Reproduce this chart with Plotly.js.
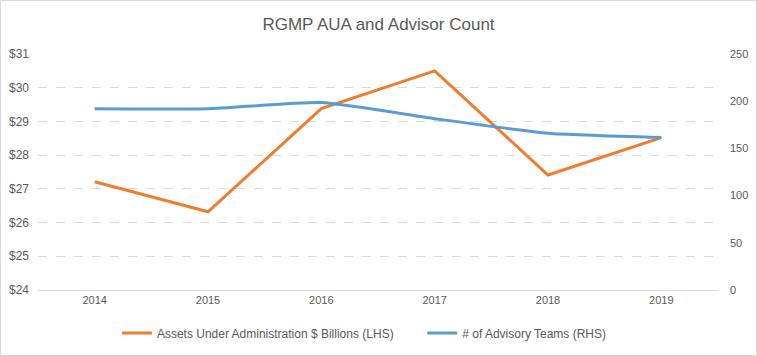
<!DOCTYPE html>
<html>
<head>
<meta charset="utf-8">
<script src="https://cdn.plot.ly/plotly-3.0.1.min.js"></script>
<style>
html,body{margin:0;padding:0;background:#fff;}
#chart{width:757px;height:356px;box-sizing:border-box;border:1px solid #d9d9d9;}
</style>
</head>
<body>
<div id="chart"></div>
<script>
const years = ["2014", "2015", "2016", "2017", "2018", "2019"];
const auaBillions = [27.21, 26.32, 29.38, 30.50, 27.41, 28.52];
const advisoryTeams = [192, 192, 198.5, 181.5, 166, 161.5];
const leftTicks = [24, 25, 26, 27, 28, 29, 30, 31];
const leftTickText = ["$24", "$25", "$26", "$27", "$28", "$29", "$30", "$31"];

const font = "Liberation Sans, Arial, sans-serif";
const textColor = "#595959";

const traces = [
  {
    x: years, y: auaBillions, type: "scatter", mode: "lines",
    name: "Assets Under Administration $ Billions (LHS)",
    line: {color: "#ED7D31", width: 3},
    yaxis: "y", legend: "legend"
  },
  {
    x: years, y: advisoryTeams, type: "scatter", mode: "lines",
    name: "# of Advisory Teams (RHS)",
    line: {color: "#5B9BD5", width: 3, shape: "spline", smoothing: 0.5},
    yaxis: "y2", legend: "legend2"
  }
];

const legendFont = {family: font, size: 12, color: textColor};
const layout = {
  width: 755, height: 354,
  margin: {l: 37, r: 38, t: 53, b: 65, autoexpand: false},
  paper_bgcolor: "#fff", plot_bgcolor: "#fff",
  font: {family: font, color: textColor, size: 11},
  title: {text: "RGMP AUA and Advisor Count", font: {family: font, size: 17, color: textColor}, x: 0.5, xanchor: "center", y: 0.935, yanchor: "middle"},
  showlegend: true,
  legend: {orientation: "h", x: 0.116, xanchor: "left", y: -0.182, yanchor: "middle", font: legendFont},
  legend2: {orientation: "h", x: 0.565, xanchor: "left", y: -0.182, yanchor: "middle", font: legendFont},
  xaxis: {
    type: "category", range: [-0.5, 5.5], showgrid: false, ticks: "",
    showline: true, linecolor: "#d9d9d9", linewidth: 1,
    tickfont: {family: font, size: 11, color: textColor}, fixedrange: true
  },
  yaxis: {
    range: [24, 31], tickvals: leftTicks, ticktext: leftTickText,
    showgrid: true, gridcolor: "#d9d9d9", griddash: "dash", gridwidth: 1,
    zeroline: false, showline: false, ticks: "", ticklabelstandoff: 8,
    tickfont: {family: font, size: 12, color: textColor}, fixedrange: true
  },
  yaxis2: {
    overlaying: "y", side: "right", range: [0, 250], dtick: 50, tick0: 0,
    showgrid: false, zeroline: false, showline: false, ticks: "", ticklabelstandoff: 11,
    tickfont: {family: font, size: 11, color: textColor}, fixedrange: true
  }
};

Plotly.newPlot("chart", traces, layout, {displayModeBar: false, staticPlot: true});
</script>
</body>
</html>
